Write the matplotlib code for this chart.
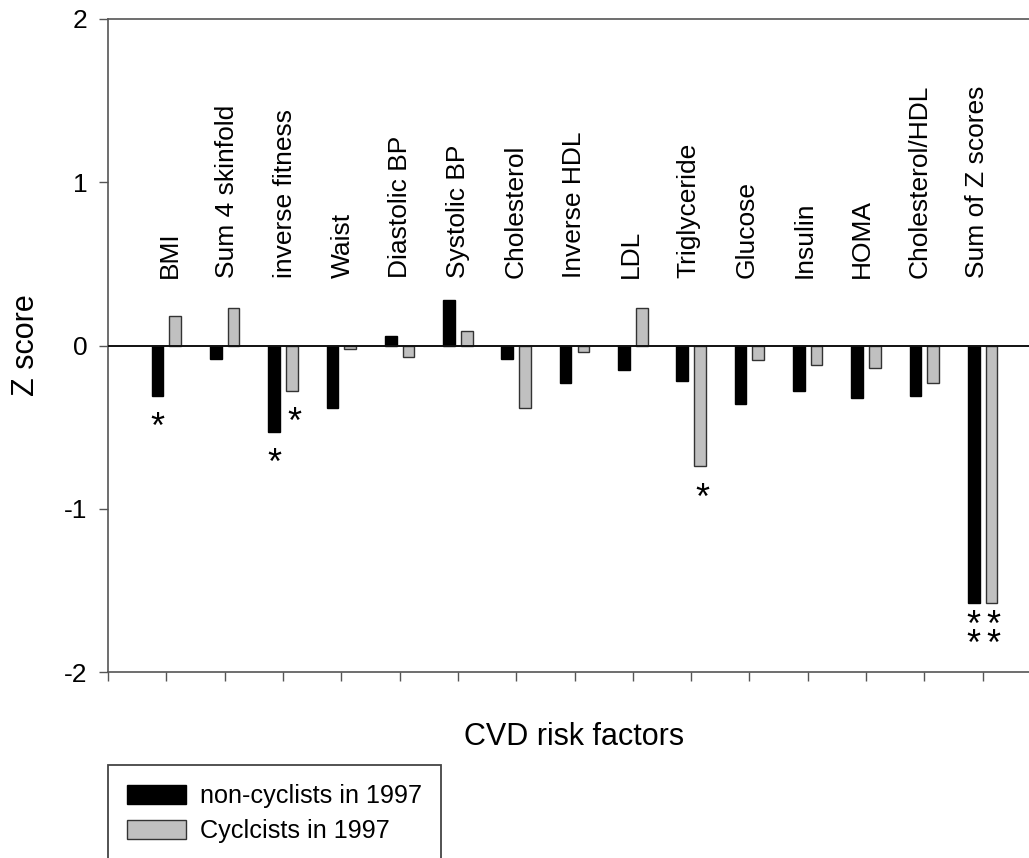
import matplotlib
matplotlib.use("Agg")
import matplotlib.pyplot as plt
import numpy as np

plt.rcParams["font.family"] = ["Liberation Sans", "DejaVu Sans"]

CATEGORIES = ["BMI", "Sum 4 skinfold", "inverse fitness", "Waist", "Diastolic BP",
              "Systolic BP", "Cholesterol", "Inverse HDL", "LDL", "Triglyceride",
              "Glucose", "Insulin", "HOMA", "Cholesterol/HDL", "Sum of Z scores"]
NON_CYCLISTS = [-0.31, -0.08, -0.53, -0.38, 0.06, 0.28, -0.08, -0.23, -0.15, -0.22,
                -0.36, -0.28, -0.32, -0.31, -1.58]
CYCLISTS = [0.18, 0.23, -0.28, -0.02, -0.07, 0.09, -0.38, -0.04, 0.23, -0.74,
            -0.09, -0.12, -0.14, -0.23, -1.58]
SERIES_LABELS = ["non-cyclists in 1997", "Cyclcists in 1997"]
# significance marks: (category index, series 0/1, number of stars)
STARS = [(0, 0, 1), (2, 0, 1), (2, 1, 1), (9, 1, 1), (14, 0, 2), (14, 1, 2)]

W, H = 1029, 858
fig = plt.figure(figsize=(W / 100, H / 100), dpi=100)
ax = fig.add_axes([108 / W, (H - 672) / H, 933 / W, 653 / H])

x = np.arange(1, len(CATEGORIES) + 1)
off, bw = 0.152, 0.2
b1 = ax.bar(x - off, NON_CYCLISTS, bw, color="black", edgecolor="black",
            linewidth=1.0, label=SERIES_LABELS[0], zorder=2)
b2 = ax.bar(x + off, CYCLISTS, bw, color="#c0c0c0", edgecolor="#333333",
            linewidth=1.0, label=SERIES_LABELS[1], zorder=2)
ax.axhline(0, color="#111111", lw=1.4, zorder=3)

# category names sit inside the plot, slightly drifting left of the ticks
for i, name in enumerate(CATEGORIES):
    ax.text(x[i] + 0.06 - 0.011 * i, 0.415, name, rotation=90,
            ha="center", va="bottom", fontsize=19)

vals = [NON_CYCLISTS, CYCLISTS]
for ci, s, n in STARS:
    xs = x[ci] + (-off if s == 0 else off + 0.04)
    y0 = vals[s][ci]
    if n == 1:
        ax.text(xs, y0 - 0.2, "*", ha="center", va="center", fontsize=26)
    else:
        ax.text(xs, y0 - 0.2, "*\n*", ha="center", va="center", fontsize=26,
                linespacing=0.42)

ax.set_xlim(0, 16)
ax.set_ylim(-2, 2)
ax.set_yticks([-2, -1, 0, 1, 2])
ax.set_yticklabels(["-2", "-1", "0", "1", "2"])
ax.set_xticks(np.arange(0, 16))
ax.set_xticklabels([])
ax.tick_params(axis="both", direction="out", length=6.5, width=1.0,
               color="#555555", labelsize=19)
ax.tick_params(axis="y", pad=8.5)
for side in ["left", "top", "bottom"]:
    ax.spines[side].set_color("#555555")
    ax.spines[side].set_linewidth(1.2)
ax.spines["right"].set_visible(False)

ax.set_ylabel("Z score", fontsize=22, labelpad=16)
ax.set_xlabel("CVD risk factors", fontsize=22, labelpad=26)

leg = ax.legend(handles=[b1, b2], loc="upper left",
                bbox_to_anchor=(108 / W, (H - 765) / H),
                bbox_transform=fig.transFigure, borderaxespad=0,
                fontsize=18.2, handlelength=2.35, handleheight=0.78,
                handletextpad=0.55, borderpad=0.75, labelspacing=0.45,
                fancybox=False, framealpha=1, edgecolor="#444444")
leg.get_frame().set_linewidth(1.3)

fig.savefig("out.png", dpi=100)
